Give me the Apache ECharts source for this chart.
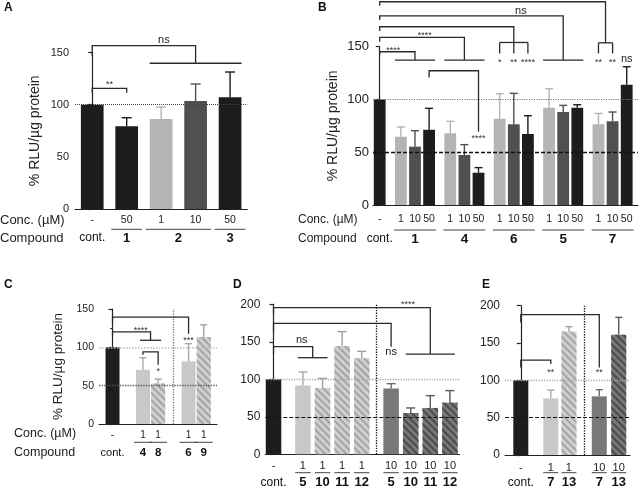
<!DOCTYPE html>
<html><head><meta charset="utf-8">
<script src="https://cdn.jsdelivr.net/npm/echarts@6/dist/echarts.min.js"></script>
<style>html,body{margin:0;padding:0;background:#fff}#c{width:641px;height:488px}</style>
</head><body><div id="c"></div>
<script>
// ================= DATA =================
// Panel A
const aConc = ['-', '50', '1', '10', '50'];
const aCompound = ['cont.', '1', '2', '2', '3'];
const aMean = [100, 79.3, 86.3, 103.5, 107];
const aErrTop = [null, 87.5, 97.8, 119.8, 131.3];
// Panel B
const bConc = ['-', '1', '10', '50', '1', '10', '50', '1', '10', '50', '1', '10', '50', '1', '10', '50'];
const bCompound = ['cont.', '1', '1', '1', '4', '4', '4', '6', '6', '6', '5', '5', '5', '7', '7', '7'];
const bMean = [100, 64.7, 55.3, 71.4, 67.9, 47.4, 30.6, 81.8, 76.4, 67.3, 92.2, 88.1, 92.2, 76.4, 79.3, 114];
const bErrTop = [null, 73.9, 70.4, 91.6, 79.3, 57.2, 35.4, 105.5, 105.8, 84.6, 110.2, 94.4, 95, 86.8, 88.1, 131];
// Panel C
const cConc = ['-', '1', '1', '1', '1'];
const cCompound = ['cont.', '4', '8', '6', '9'];
const cMean = [100, 70.7, 52.8, 81.7, 113.5];
const cErrTop = [null, 86.5, 58.5, 104.8, 129.3];
// Panel D
const dConc = ['-', '1', '1', '1', '1', '10', '10', '10', '10'];
const dCompound = ['cont.', '5', '10', '11', '12', '5', '10', '11', '12'];
const dMean = [100, 91.6, 88.4, 144.4, 128, 87.6, 55.1, 61.8, 68.9];
const dErrTop = [null, 109.8, 101.3, 163.6, 137.3, 94.2, 61.8, 78.2, 84.9];
// Panel E
const eConc = ['-', '1', '1', '10', '10'];
const eCompound = ['cont.', '7', '13', '7', '13'];
const eMean = [100, 75.9, 165.6, 78.6, 161.2];
const eErrTop = [null, 87, 171.9, 87.5, 184.4];
// y-axis tick labels (axis maxima, step 50)
const yMaxA = 150, yMaxB = 150, yMaxC = 150, yMaxD = 200, yMaxE = 200;
const yStep = 50;
// significance brackets (bar indices, levels in % units) and their texts
const aBrackets = [
  {a: 0, b: 1, yA: 111.5, top: 115.7, yB: 111.5},
  {a: 0, b: [2, 3, 4], yA: 146.7, top: 156.6, yB: 139.7}
];
const aMarks = [['**', 0.5, 121], ['ns', 2.08, 162]];
const bBrackets = [
  {a: 0, b: [13, 14], fork: true, yA: 188.7, top: 192.6, yB: 153.7, yFork: 143.6},
  {a: 0, b: [10, 11, 12], yA: 175.2, top: 179.3, yB: 137.3},
  {a: 0, b: [7, 8, 9], fork: true, yA: 164.8, top: 168.9, yB: 154, yFork: 143.6},
  {a: 0, b: [4, 5, 6], yA: 154.7, top: 158.8, yB: 137.3},
  {a: 0, b: [1, 2, 3], yA: 142, top: 145.2, yB: 137.3},
  {a: 3, b: 6, yA: 120.9, top: 127.2, yB: 69.4}
];
const bMarks = [['**', 31, 137], ['**', 33, 137], ['ns', 35, 138], ['ns', 20, 184],
  ['*', 17, 137], ['**', 19, 137], ['****', 21, 137], ['****', 6.4, 162.6], ['****', 1.93, 148.4], ['****', 14, 65.3]];
const cBrackets = [
  {a: 0, b: 3, yA: 132.8, top: 139.3, yB: 117.6},
  {a: 0, b: [1, 2], yA: 114.4, top: 120.2, yB: 109.2},
  {a: 1, b: 2, yA: 90.4, top: 94, yB: 77.3}
];
const cMarks = [['***', 5, 111], ['****', 1.86, 124], ['*', 3, 71.6]];
const dBrackets = [
  {a: 0, b: [6, 7, 8], yA: 185.7, top: 195.5, yB: 133.7},
  {a: 0, b: 5, yA: 162.7, top: 174.6, yB: 143.5},
  {a: 0, b: [1, 2], yA: 134.7, top: 143.5, yB: 128.8}
];
const dMarks = [['****', 6.86, 202.7], ['ns', 6, 136], ['ns', 1.44, 152.4]];
const eBrackets = [
  {a: 0, b: 3, yA: 177.5, top: 188, yB: 117.3},
  {a: 0, b: 1, yA: 117.3, top: 127, yB: 122}
];
const eMarks = [['**', 4.24, 112.8], ['**', 1.62, 112.8]];

// ================= LAYOUT & STYLE =================
const FONT = "'Liberation Sans', Arial, Helvetica, sans-serif";
const SHADES = {
  k:  {fill: '#1d1d1d', err: '#1d1d1d'},
  d:  {fill: '#505050', err: '#505050'},
  l:  {fill: '#b4b4b4', err: '#b4b4b4'},
  l2: {fill: '#c8c8c8', err: '#a8a8a8'},
  lh: {fill: '#cfcfcf', stripe: '#a4a4a4', err: '#a0a0a0'},
  m:  {fill: '#787878', err: '#6a6a6a'},
  mh: {fill: '#787878', stripe: '#4a4a4a', err: '#5a5a5a'}
};
const panels = [
  {conc: aConc, comp: aCompound, mean: aMean, err: aErrTop, brackets: aBrackets, marks: aMarks, ymax: yMaxA,
   shade: ['k', 'k', 'l', 'd', 'k'], slots: [0, 1, 2, 3, 4], xmin: -0.5, xmax: 4.5,
   grid: {left: 75, top: 52.5, width: 172.3, height: 156.5}, barW: 22.7, cap: 10, groupPad: 11.5, ulPad: 4,
   tickFont: 11, labelMargin: 6, title: '% RLU/µg protein', nameGap: 33, titleFont: 14,
   rows: [11, 20.3, 29], concFont: 10.5, compFont: 13, contFont: 12,
   hlines: [{y: 100, color: '#444', type: 'dotted', w: 1}], sep: null},
  {conc: bConc, comp: bCompound, mean: bMean, err: bErrTop, brackets: bBrackets, marks: bMarks, ymax: yMaxB,
   shade: ['k', 'l', 'd', 'k', 'l', 'd', 'k', 'l', 'd', 'k', 'l', 'd', 'k', 'l', 'd', 'k'],
   slots: [0, 3, 5, 7, 10, 12, 14, 17, 19, 21, 24, 26, 28, 31, 33, 35], xmin: -0.95, xmax: 36.6,
   grid: {left: 373, top: 46.7, width: 265, height: 158.3}, barW: 11.8, cap: 8, groupPad: 6, ulPad: 1,
   tickFont: 13, labelMargin: 4, title: '% RLU/µg protein', nameGap: 33, titleFont: 14,
   rows: [14.5, 25, 34], concFont: 10.5, compFont: 13.5, contFont: 12,
   hlines: [{y: 100, color: '#777', type: 'dotted', w: 1.2}, {y: 50, color: '#111', type: [4, 2], w: 1.3}], sep: null},
  {conc: cConc, comp: cCompound, mean: cMean, err: cErrTop, brackets: cBrackets, marks: cMarks, ymax: yMaxC,
   shade: ['k', 'l2', 'lh', 'l2', 'lh'], slots: [0, 2, 3, 5, 6], xmin: -0.89, xmax: 6.87, minor: true,
   grid: {left: 99, top: 309, width: 118, height: 115}, barW: 14, cap: 7, groupPad: 3, ulPad: 2,
   tickFont: 10.5, labelMargin: 5, title: '% RLU/µg protein', nameGap: 34, titleFont: 13.5,
   rows: [11, 18.3, 28.5], concFont: 10, compFont: 11.5, contFont: 11,
   hlines: [{y: 100, color: '#bbb', type: 'dotted', w: 1.5}, {y: 50, color: '#555', type: 'dotted', w: 1.3}],
   sep: {x: 4, color: '#777'}},
  {conc: dConc, comp: dCompound, mean: dMean, err: dErrTop, brackets: dBrackets, marks: dMarks, ymax: yMaxD,
   shade: ['k', 'l2', 'lh', 'lh', 'lh', 'm', 'mh', 'mh', 'mh'], slots: [0, 1.5, 2.5, 3.5, 4.5, 6, 7, 8, 9],
   xmin: -0.42, xmax: 9.5,
   grid: {left: 265.3, top: 304.3, width: 194.4, height: 150}, barW: 15.5, cap: 9, groupPad: 5, ulPad: 0,
   tickFont: 12, labelMargin: 5, title: '', nameGap: 30, titleFont: 14,
   rows: [12, 18.4, 28], concFont: 11, compFont: 13, contFont: 12,
   hlines: [{y: 100, color: '#aaa', type: 'dotted', w: 1.3}, {y: 50, color: '#111', type: [4, 2], w: 1.2}],
   sep: {x: 5.25, color: '#111'}},
  {conc: eConc, comp: eCompound, mean: eMean, err: eErrTop, brackets: eBrackets, marks: eMarks, ymax: yMaxE,
   shade: ['k', 'l2', 'lh', 'm', 'mh'], slots: [0, 1.62, 2.6, 4.24, 5.29], xmin: -0.854, xmax: 5.9,
   grid: {left: 505, top: 305.7, width: 125, height: 149.3}, barW: 15, cap: 7, groupPad: 5, ulPad: 0,
   tickFont: 12, labelMargin: 5, title: '', nameGap: 30, titleFont: 14,
   rows: [12.7, 17.7, 27.3], concFont: 11, compFont: 13, contFont: 12,
   hlines: [{y: 100, color: '#aaa', type: 'dotted', w: 1.3}, {y: 50, color: '#111', type: [4, 2], w: 1.2}],
   sep: {x: 3.42, color: '#111'}}
];

function itemStyleFor(key) {
  const s = SHADES[key];
  const st = {color: s.fill};
  if (s.stripe) {
    st.decal = {symbol: 'rect', symbolSize: 1, color: s.stripe, dashArrayX: [1, 0], dashArrayY: [2, 3],
      rotation: Math.PI / 4};
  }
  return st;
}

function buildOps(p) {
  const ops = [];
  const X = i => p.slots[i];
  p.brackets.forEach(br => {
    const xa = X(br.a);
    const grp = Array.isArray(br.b) ? br.b : [br.b];
    const xs = grp.map(X);
    const xb = xs.reduce((s, v) => s + v, 0) / xs.length;
    ops.push({k: 'poly', pts: [[xa, br.yA], [xa, br.top], [xb, br.top], [xb, br.yB]]});
    if (grp.length > 1) {
      if (br.fork) {
        ops.push({k: 'hline', x1: Math.min(...xs), x2: Math.max(...xs), y: br.yB, pad: 0});
        xs.forEach(x => ops.push({k: 'poly', pts: [[x, br.yB], [x, br.yFork]]}));
      } else {
        ops.push({k: 'hline', x1: Math.min(...xs), x2: Math.max(...xs), y: br.yB, pad: p.groupPad});
      }
    }
  });
  p.marks.forEach(m => {
    const isNs = m[0] === 'ns';
    ops.push({k: 'text', x: m[1], y: m[2], text: m[0], size: isNs ? 11 : 9, dy: isNs ? 0 : 2, color: isNs ? '#222' : '#333'});
  });
  // axis label rows
  p.conc.forEach((c, i) => {
    ops.push({k: 'text', x: X(i), y: 0, dy: p.rows[0], text: c, size: p.concFont, color: '#222'});
  });
  let start = 0;
  for (let i = 1; i <= p.comp.length; i++) {
    if (i === p.comp.length || p.comp[i] !== p.comp[start]) {
      const xs = [];
      for (let j = start; j < i; j++) xs.push(X(j));
      const name = p.comp[start];
      const isCont = name === 'cont.';
      ops.push({k: 'text', x: xs.reduce((s, v) => s + v, 0) / xs.length, y: 0, dy: p.rows[2], text: name,
        size: isCont ? p.contFont : p.compFont, bold: !isCont, color: '#111'});
      if (!isCont) ops.push({k: 'ul', x1: Math.min(...xs), x2: Math.max(...xs), dy: p.rows[1], pad: p.barW / 2 + p.ulPad});
      start = i;
    }
  }
  return ops;
}

const option = {animation: false, backgroundColor: '#fff', grid: [], xAxis: [], yAxis: [], series: [],
  graphic: {elements: []}};

panels.forEach((p, gi) => {
  option.grid.push(Object.assign({containLabel: false, outerBoundsMode: 'none'}, p.grid));
  option.xAxis.push({gridIndex: gi, type: 'value', min: p.xmin, max: p.xmax,
    axisLine: {show: true, onZero: true, lineStyle: {color: '#222', width: 1.2}},
    axisTick: {show: false}, axisLabel: {show: false}, splitLine: {show: false}});
  option.yAxis.push({gridIndex: gi, type: 'value', min: 0, max: p.ymax, interval: yStep,
    axisLine: {show: true, lineStyle: {color: '#222', width: 1.2}},
    axisTick: {show: true, length: 4, lineStyle: {color: '#222', width: 1.2}},
    minorTick: {show: !!p.minor, splitNumber: 2, length: 2.5, lineStyle: {color: '#333', width: 1}},
    axisLabel: {fontSize: p.tickFont, color: '#222', margin: p.labelMargin, fontFamily: FONT},
    splitLine: {show: false},
    name: p.title, nameLocation: 'middle', nameGap: p.nameGap,
    nameTextStyle: {fontSize: p.titleFont, color: '#222', fontFamily: FONT}});
  // bars
  option.series.push({type: 'bar', xAxisIndex: gi, yAxisIndex: gi, barWidth: p.barW, z: 2,
    data: p.mean.map((v, i) => ({value: [p.slots[i], v], itemStyle: itemStyleFor(p.shade[i])}))});
  // error bars (upper)
  const errData = [];
  p.err.forEach((e, i) => { if (e != null) errData.push([p.slots[i], p.mean[i], e, i]); });
  option.series.push({type: 'custom', xAxisIndex: gi, yAxisIndex: gi, z: 3, clip: false, data: errData,
    renderItem: (params, api) => {
      const x = api.value(0), m = api.value(1), e = api.value(2), idx = api.value(3);
      const a = api.coord([x, m]), b = api.coord([x, e]);
      const col = SHADES[p.shade[idx]].err;
      return {type: 'group', children: [
        {type: 'line', shape: {x1: a[0], y1: a[1], x2: b[0], y2: b[1]}, style: {stroke: col, lineWidth: 1.4}},
        {type: 'line', shape: {x1: b[0] - p.cap / 2, y1: b[1], x2: b[0] + p.cap / 2, y2: b[1]}, style: {stroke: col, lineWidth: 1.4}}
      ]};
    }});
  // reference lines
  const ml = p.hlines.map(h => ({yAxis: h.y, lineStyle: {color: h.color, type: h.type, width: h.w}}));
  if (p.sep) ml.push({xAxis: p.sep.x, lineStyle: {color: p.sep.color, type: 'dotted', width: 1.3}});
  option.series.push({type: 'line', xAxisIndex: gi, yAxisIndex: gi, data: [], z: 4,
    markLine: {silent: true, symbol: ['none', 'none'], label: {show: false}, animation: false, data: ml}});
  // annotations: brackets, marks, axis label rows
  const ops = buildOps(p);
  option.series.push({type: 'custom', xAxisIndex: gi, yAxisIndex: gi, z: 5, clip: false,
    data: ops.map((_, i) => [i]),
    renderItem: (params, api) => {
      const op = ops[params.dataIndex];
      const bc = '#2a2a2a', bw = 1.3;
      if (op.k === 'poly') {
        return {type: 'polyline', shape: {points: op.pts.map(q => api.coord(q))}, style: {stroke: bc, lineWidth: bw, fill: null}};
      }
      if (op.k === 'hline') {
        const a = api.coord([op.x1, op.y]), b = api.coord([op.x2, op.y]);
        return {type: 'line', shape: {x1: a[0] - op.pad, y1: a[1], x2: b[0] + op.pad, y2: b[1]}, style: {stroke: bc, lineWidth: bw}};
      }
      if (op.k === 'ul') {
        const a = api.coord([op.x1, 0]), b = api.coord([op.x2, 0]);
        return {type: 'line', shape: {x1: a[0] - op.pad, y1: a[1] + op.dy, x2: b[0] + op.pad, y2: b[1] + op.dy}, style: {stroke: '#444', lineWidth: 1}};
      }
      const c = api.coord([op.x, op.y]);
      return {type: 'text', x: c[0], y: c[1] + (op.dy || 0), style: {text: op.text, fontSize: op.size,
        fontWeight: op.bold ? 'bold' : 'normal', fontFamily: FONT, fill: op.color, align: 'center', verticalAlign: 'middle'}};
    }});
});

// panel letters and row headers
const letters = [['A', 4, 2], ['B', 318, 2], ['C', 4, 279], ['D', 233, 279], ['E', 482, 279]];
letters.forEach(l => option.graphic.elements.push({type: 'text', left: l[1], top: l[2],
  style: {text: l[0], font: 'bold 12px ' + FONT, fill: '#111'}}));
const headers = [['Conc. (µM)', 0, 220, 13], ['Compound', 0, 238, 13], ['Conc. (µM)', 298, 220, 12], ['Compound', 298, 239, 12],
  ['Conc. (µM)', 14, 433.5, 12.5], ['Compound', 14, 452.5, 12.5]];
headers.forEach(h => option.graphic.elements.push({type: 'text', x: h[1], y: h[2],
  style: {text: h[0], fontSize: h[3], fontFamily: FONT, fill: '#222', align: 'left', verticalAlign: 'middle'}}));

const chart = echarts.init(document.getElementById('c'), null, {renderer: 'canvas'});
chart.setOption(option);
</script>
</body></html>
